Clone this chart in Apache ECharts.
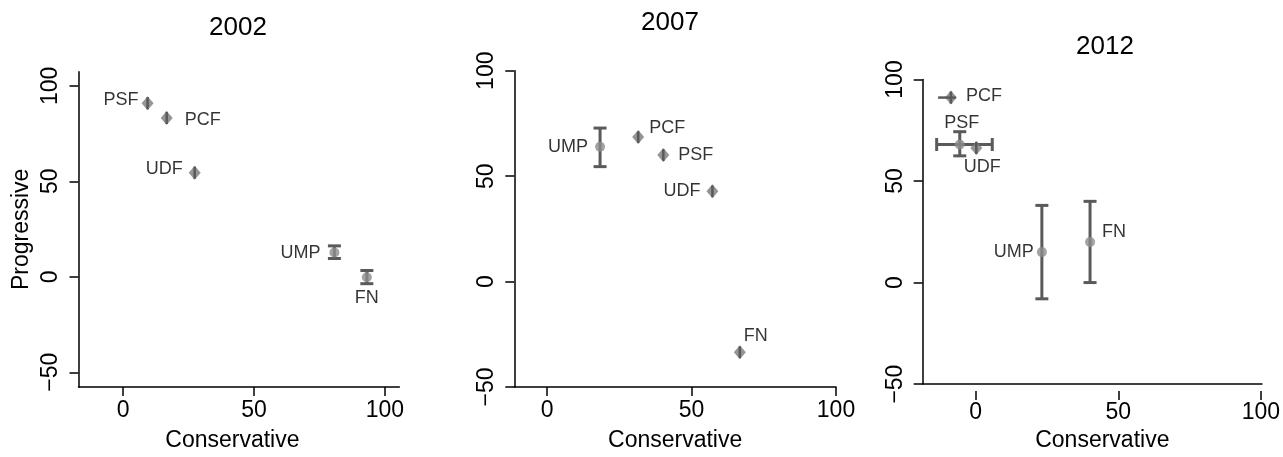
<!DOCTYPE html>
<html>
<head>
<meta charset="utf-8">
<title>Party positions</title>
<script src="https://cdn.jsdelivr.net/npm/echarts@6/dist/echarts.min.js"></script>
<style>
  html, body { margin: 0; padding: 0; background: #fff; }
  #chart { width: 1283px; height: 457px; }
</style>
</head>
<body>
<div id="chart"></div>
<script>
// values: Conservative (x) / Progressive (y), with intervals
var years = ["2002", "2007", "2012"];
var ticks = [-50, 0, 50, 100];

var parties2002 = ["PSF", "PCF", "UDF", "UMP", "FN"];
var marks2002 = ["diamond", "diamond", "diamond", "circle", "circle"];
var cons2002 = [9.3, 16.6, 27.3, 80.7, 93.1];
var prog2002 = [90.9, 83.2, 54.5, 12.7, -0.2];
var progLo2002 = [87.7, 80.0, 51.3, 9.6, -3.6];
var progHi2002 = [94.1, 86.4, 57.7, 16.2, 3.3];
var consLo2002 = [null, null, null, null, null];
var consHi2002 = [null, null, null, null, null];

var parties2007 = ["UMP", "PCF", "PSF", "UDF", "FN"];
var marks2007 = ["circle", "diamond", "diamond", "diamond", "diamond"];
var cons2007 = [18.3, 31.5, 40.2, 57.2, 66.7];
var prog2007 = [63.9, 68.5, 60.0, 42.8, -33.5];
var progLo2007 = [54.5, 65.7, 57.2, 40.0, -36.3];
var progHi2007 = [72.8, 71.3, 62.8, 45.6, -30.7];
var consLo2007 = [null, null, null, null, null];
var consHi2007 = [null, null, null, null, null];

var parties2012 = ["PCF", "PSF", "UDF", "UMP", "FN"];
var marks2012 = ["diamond", "circle", "diamond", "circle", "circle"];
var cons2012 = [-8.7, -5.6, 0.2, 23.2, 40.1];
var prog2012 = [91.1, 68.0, 66.3, 15.0, 20.0];
var progLo2012 = [88.1, 62.4, 63.3, -8.0, 0.0];
var progHi2012 = [94.1, 74.3, 69.3, 38.0, 40.0];
var consLo2012 = [-13.2, -13.7, null, null, null];
var consHi2012 = [-7.0, 5.8, null, null, null];

// label placement per party: [position, distance, dx, dy]
var labelSpots = [
  [["left", 3, 0, -3], ["right", 12, 0, 2], ["left", 6, 0, -4], ["left", 9, 0, 0], ["bottom", 7, 0, 0]],
  [["left", 7, 0, 0], ["right", 5, 0, -9], ["right", 9, 0, 0], ["left", 6, 0, 0], ["right", -2, 0, -16]],
  [["right", 9, 0, -2], ["top", 7, 2, 0], ["bottom", 3, 6, 0], ["left", 3, 0, 0], ["right", 7, 0, -10]]
];

var panels = [
  { parties: parties2002, marks: marks2002, x: cons2002, y: prog2002, xLo: consLo2002, xHi: consHi2002, yLo: progLo2002, yHi: progHi2002 },
  { parties: parties2007, marks: marks2007, x: cons2007, y: prog2007, xLo: consLo2007, xHi: consHi2007, yLo: progLo2007, yHi: progHi2007 },
  { parties: parties2012, marks: marks2012, x: cons2012, y: prog2012, xLo: consLo2012, xHi: consHi2012, yLo: progLo2012, yHi: progHi2012 }
];

var FONT = "Liberation Sans, Arial, Helvetica, sans-serif";
var barColor = "#5a5a5a";
var diamondColor = "#7b7b7b";
var circleColor = "#8c8c8c";

var grids = [
  { left: 78.5, top: 71.7, width: 320.8, height: 320 },
  { left: 514.3, top: 70.7, width: 321.7, height: 321.5 },
  { left: 922.7, top: 79.5, width: 340.6, height: 313 }
];
var xRanges = [[-17.1, 105.5], [-11.4, 100], [-18.6, 100.4]];
var yRanges = [[-57.7, 107.4], [-50, 100], [-50, 100]];

// error bars; circles get caps, diamonds only a plain line through the marker
function makeBars(capped) {
  return function (params, api) {
    var x = api.value(0), y = api.value(1);
    var xLo = api.value(2), xHi = api.value(3), yLo = api.value(4), yHi = api.value(5);
    var style = { stroke: barColor, lineWidth: capped ? 3 : 2.5 };
    var cap = 6.5;
    var kids = [];
    if (isFinite(yLo) && isFinite(yHi)) {
      var a = api.coord([x, yLo]), b = api.coord([x, yHi]);
      kids.push({ type: "line", shape: { x1: a[0], y1: a[1], x2: b[0], y2: b[1] }, style: style });
      if (capped) {
        kids.push({ type: "line", shape: { x1: a[0] - cap, y1: a[1], x2: a[0] + cap, y2: a[1] }, style: style });
        kids.push({ type: "line", shape: { x1: b[0] - cap, y1: b[1], x2: b[0] + cap, y2: b[1] }, style: style });
      }
    }
    if (isFinite(xLo) && isFinite(xHi)) {
      var c = api.coord([xLo, y]), d = api.coord([xHi, y]);
      kids.push({ type: "line", shape: { x1: c[0], y1: c[1], x2: d[0], y2: d[1] }, style: style });
      if (capped) {
        kids.push({ type: "line", shape: { x1: c[0], y1: c[1] - cap, x2: c[0], y2: c[1] + cap }, style: style });
        kids.push({ type: "line", shape: { x1: d[0], y1: d[1] - cap, x2: d[0], y2: d[1] + cap }, style: style });
      }
    }
    return { type: "group", children: kids };
  };
}

function num(v) { return v == null ? NaN : v; }

var titles = [], xAxes = [], yAxes = [], series = [];
var titlePos = [[233, 10], [665, 5], [1100, 29]];
var namePad = [[0, 13, 0, 0], [0, 0, 0, 0], [0, 0, 0, 20]];

panels.forEach(function (p, i) {
  titles.push({
    text: years[i], left: titlePos[i][0], top: titlePos[i][1], textAlign: "center",
    textStyle: { fontFamily: FONT, fontSize: 26, fontWeight: "normal", color: "#000" }
  });

  var axisLine = { show: true, onZero: false, lineStyle: { color: "#000", width: 1.5 } };
  var tickStyle = { show: true, length: 9, lineStyle: { color: "#000", width: 1.5 }, customValues: [0, 50, 100] };

  xAxes.push({
    type: "value", gridIndex: i, min: xRanges[i][0], max: xRanges[i][1],
    position: "bottom", offset: i === 2 ? 7 : 0,
    axisLine: i === 2 ? { show: false, onZero: false } : axisLine,
    axisTick: tickStyle,
    axisLabel: { customValues: [0, 50, 100], fontFamily: FONT, fontSize: 23, color: "#000", margin: i === 2 ? 10 : 12 },
    splitLine: { show: false },
    name: "Conservative", nameLocation: "middle", nameGap: i === 2 ? 35 : 42,
    nameTextStyle: { fontFamily: FONT, fontSize: 23, color: "#000", padding: namePad[i] }
  });

  yAxes.push({
    type: "value", gridIndex: i, min: yRanges[i][0], max: yRanges[i][1],
    axisLine: axisLine,
    axisTick: { show: true, length: 9, lineStyle: { color: "#000", width: 1.5 }, customValues: ticks },
    axisLabel: { customValues: ticks, rotate: 90, fontFamily: FONT, fontSize: 23, color: "#000", margin: 16,
      formatter: function (v) { return String(v).replace("-", "\u2212"); } },
    splitLine: { show: false },
    name: i === 0 ? "Progressive" : "", nameLocation: "middle", nameGap: 45,
    nameTextStyle: { fontFamily: FONT, fontSize: 23, color: "#000" }
  });

  var rows = p.parties.map(function (name, k) {
    return { name: name, mark: p.marks[k],
      value: [p.x[k], p.y[k], num(p.xLo[k]), num(p.xHi[k]), num(p.yLo[k]), num(p.yHi[k])] };
  });

  // capped bars sit under the circles
  series.push({
    type: "custom", xAxisIndex: i, yAxisIndex: i, z: 1, silent: true,
    encode: { x: 0, y: 1 },
    renderItem: makeBars(true),
    data: rows.filter(function (r) { return r.mark === "circle"; }).map(function (r) { return r.value; })
  });

  series.push({
    type: "scatter", xAxisIndex: i, yAxisIndex: i, z: 2, silent: true,
    data: rows.map(function (r, k) {
      var s = labelSpots[i][k];
      var dia = r.mark === "diamond";
      return {
        name: r.name, value: [r.value[0], r.value[1]],
        symbol: dia ? "diamond" : "circle",
        symbolSize: dia ? [12, 14] : 10,
        itemStyle: { color: dia ? diamondColor : circleColor },
        label: { show: true, formatter: "{b}", position: s[0], distance: s[1], offset: [s[2], s[3]],
          fontFamily: FONT, fontSize: 18, color: "#000" }
      };
    })
  });

  // the plain bars drawn through the diamonds
  series.push({
    type: "custom", xAxisIndex: i, yAxisIndex: i, z: 3, silent: true,
    encode: { x: 0, y: 1 },
    renderItem: makeBars(false),
    data: rows.filter(function (r) { return r.mark === "diamond"; }).map(function (r) { return r.value; })
  });
});

// 2012 panel: axis line sits above its ticks, so it gets a line-only axis
xAxes.push({
  type: "value", gridIndex: 2, min: xRanges[2][0], max: xRanges[2][1], position: "bottom", offset: 0,
  axisLine: { show: true, onZero: false, lineStyle: { color: "#000", width: 1.5 } },
  axisTick: { show: false }, axisLabel: { show: false }, splitLine: { show: false }
});

var myChart = echarts.init(document.getElementById("chart"), null, { renderer: "canvas" });
myChart.setOption({
  animation: false,
  backgroundColor: "#fff",
  title: titles,
  grid: grids,
  xAxis: xAxes,
  yAxis: yAxes,
  series: series
});
</script>
</body>
</html>
